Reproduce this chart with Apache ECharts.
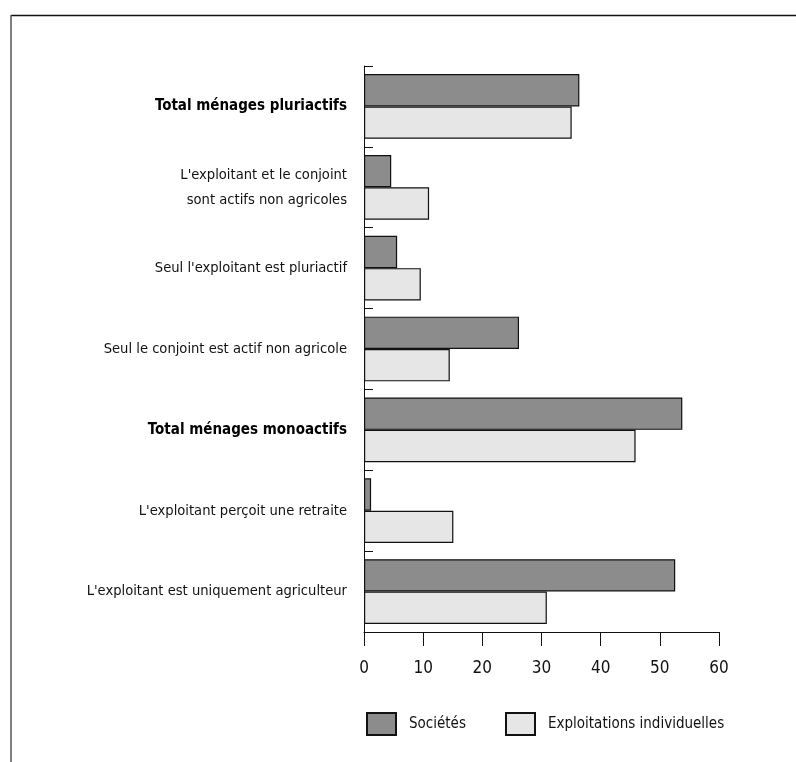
<!DOCTYPE html>
<html>
<head>
<meta charset="utf-8">
<script src="https://cdn.jsdelivr.net/npm/echarts@6/dist/echarts.min.js"></script>
<style>
html,body{margin:0;padding:0;background:#fff;}
#c{width:796px;height:762px;}
</style>
</head>
<body>
<div id="c"></div>
<script>
const categories = [
  "Total ménages pluriactifs",
  "L'exploitant et le conjoint\nsont actifs non agricoles",
  "Seul l'exploitant est pluriactif",
  "Seul le conjoint est actif non agricole",
  "Total ménages monoactifs",
  "L'exploitant perçoit une retraite",
  "L'exploitant est uniquement agriculteur"
];
const boldCategories = ["Total ménages pluriactifs", "Total ménages monoactifs"];
const societes = [36.4, 4.6, 5.6, 26.2, 53.8, 1.2, 52.6];
const individuelles = [35.1, 11.0, 9.6, 14.5, 45.9, 15.1, 30.9];
const seriesNames = ["Sociétés", "Exploitations individuelles"];
const xTicks = [0, 10, 20, 30, 40, 50, 60];

const FONT = "'Liberation Sans Narrow', 'DejaVu Sans Condensed', 'Liberation Sans', sans-serif";
const chart = echarts.init(document.getElementById('c'));
chart.setOption({
  backgroundColor: '#fff',
  animation: false,
  grid: {left: 364, right: 77, top: 66, bottom: 130, containLabel: false},
  xAxis: {
    type: 'value', min: xTicks[0], max: xTicks[xTicks.length - 1], interval: 10,
    axisLine: {show: true, lineStyle: {color: '#111', width: 1}},
    axisTick: {show: true, length: 14, lineStyle: {color: '#111', width: 1}},
    splitLine: {show: false},
    axisLabel: {margin: 28, fontFamily: FONT, fontSize: 17, color: '#111'}
  },
  yAxis: {
    type: 'category', inverse: true, data: categories,
    axisLine: {show: true, lineStyle: {color: '#111', width: 1}},
    axisTick: {show: true, inside: true, length: 9, alignWithLabel: false, lineStyle: {color: '#111', width: 1}},
    axisLabel: {
      margin: 17, fontFamily: FONT, fontSize: 14.6, color: '#111', lineHeight: 25, align: 'right',
      formatter: v => boldCategories.includes(v) ? '{b|' + v + '}' : v,
      rich: {b: {fontFamily: FONT, fontSize: 15, fontWeight: 'bold', color: '#000'}}
    }
  },
  legend: [{
    data: [seriesNames[0]], left: 366, top: 712, padding: 0, itemWidth: 29, itemHeight: 22, itemGap: 10,
    textStyle: {fontFamily: FONT, fontSize: 15, color: '#111', padding: [0, 0, 0, 8]},
    icon: 'rect', selectedMode: false
  }, {
    data: [seriesNames[1]], left: 505, top: 712, padding: 0, itemWidth: 29, itemHeight: 22,
    textStyle: {fontFamily: FONT, fontSize: 15, color: '#111', padding: [0, 0, 0, 8]},
    icon: 'rect', selectedMode: false
  }],
  series: [{
    name: seriesNames[0], type: 'bar', data: societes, barGap: '0%', barCategoryGap: '20%',
    itemStyle: {color: '#8c8c8c', borderColor: '#111', borderWidth: 1.2}
  }, {
    name: seriesNames[1], type: 'bar', data: individuelles, barGap: '0%', barCategoryGap: '20%',
    itemStyle: {color: '#e6e6e6', borderColor: '#111', borderWidth: 1.2}
  }],
  graphic: [
    {type: 'line', shape: {x1: 11, y1: 15.5, x2: 796, y2: 15.5}, style: {stroke: '#111', lineWidth: 1.5}},
    {type: 'line', shape: {x1: 11, y1: 15, x2: 11, y2: 762}, style: {stroke: '#555', lineWidth: 1.5}}
  ]
});
</script>
</body>
</html>
